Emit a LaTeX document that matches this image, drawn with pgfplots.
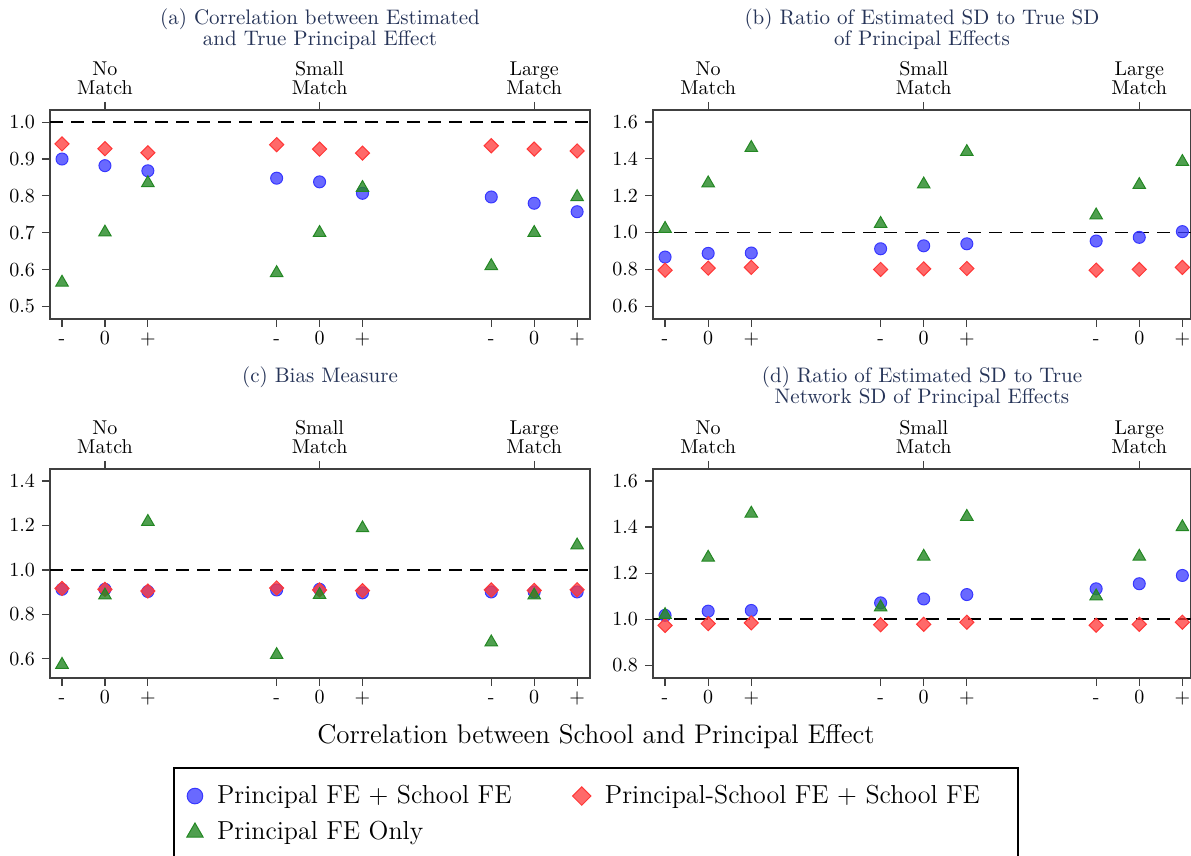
\documentclass[border=0pt]{standalone}
\usepackage{pgfplots}
\usepackage{pgfplotstable}
\pgfplotsset{compat=1.18}
\definecolor{mblue}{RGB}{55,55,255}
\definecolor{mred}{RGB}{255,55,55}
\definecolor{mgreen}{RGB}{35,135,35}
\definecolor{titlecol}{RGB}{38,52,88}

\pgfplotstableread{
x b r g
1 0.900 0.941 0.565
2 0.882 0.928 0.701
3 0.868 0.917 0.835
6 0.848 0.939 0.591
7 0.838 0.927 0.700
8 0.807 0.916 0.822
11 0.797 0.936 0.610
12 0.780 0.927 0.700
13 0.757 0.922 0.797
}\tabA
\pgfplotstableread{
x b r g
1 0.867 0.796 1.021
2 0.887 0.807 1.268
3 0.889 0.811 1.460
6 0.912 0.800 1.048
7 0.928 0.803 1.262
8 0.939 0.805 1.438
11 0.954 0.796 1.094
12 0.974 0.800 1.259
13 1.005 0.811 1.384
}\tabB
\pgfplotstableread{
x b r g
1 0.913 0.917 0.574
2 0.913 0.913 0.886
3 0.903 0.905 1.217
6 0.910 0.919 0.618
7 0.913 0.910 0.888
8 0.897 0.907 1.188
11 0.901 0.910 0.675
12 0.901 0.908 0.886
13 0.901 0.911 1.111
}\tabC
\pgfplotstableread{
x b r g
1 1.017 0.973 1.019
2 1.035 0.981 1.268
3 1.038 0.984 1.459
6 1.071 0.976 1.052
7 1.088 0.978 1.272
8 1.107 0.987 1.445
11 1.132 0.974 1.100
12 1.154 0.978 1.272
13 1.190 0.987 1.400
}\tabD

\pgfplotsset{
  every axis title shift=0pt,
  base/.style={scale only axis, anchor=south west, height=104.5pt,
    xtick={1,2,3,6,7,8,11,12,13}, xticklabels={-,0,+,-,0,+,-,0,+},
    xtick pos=left, ytick pos=left, tick align=outside, major tick length=4pt,
    axis line style={black!75, line width=0.6pt},
    tick style={black!75, line width=0.6pt},
    ticklabel style={font=\fontsize{10}{12}\selectfont},
    xticklabel style={text height=1.55ex, text depth=0.25ex, yshift=1.5pt},
    yticklabel style={/pgf/number format/.cd, fixed, fixed zerofill, precision=1},
    title style={font=\fontsize{10.5}{10.5}\selectfont, text=titlecol, align=center, anchor=center},
  },
  left/.style={width=270pt, xmin=0.72, xmax=13.3},
  right/.style={width=269pt, xmin=0.72, xmax=13.2},
  toplab/.style={scale only axis, anchor=south west, height=104.5pt, ymin=0, ymax=1,
    axis x line*=top, hide y axis, axis line style={draw=none},
    xtick={2,7,12}, xticklabels={{No\\Match},{Small\\Match},{Large\\Match}},
    xticklabel style={align=center, font=\fontsize{10}{9.6}\selectfont},
    tick align=outside, major tick length=4pt, tick style={black!75, line width=0.6pt}},
  refline/.style={black, line width=0.9pt, dash pattern=on 6.5pt off 4pt, forget plot},
  pb/.style={only marks, mark=*, mark size=3pt, color=mblue, mark options={fill=mblue, fill opacity=0.75, line width=0.5pt}},
  pr/.style={only marks, mark=square*, mark size=2.5pt, color=mred, mark options={rotate=45, fill=mred, fill opacity=0.75, line width=0.5pt}},
  pg/.style={only marks, mark=triangle*, mark size=3.6pt, color=mgreen, mark options={fill=mgreen, fill opacity=0.8, line width=0.5pt}},
}

\begin{document}
\begin{tikzpicture}
\useasboundingbox (0,0) rectangle (595.5pt,428pt);
% (a)
\begin{axis}[base, left, at={(25pt,268.5pt)}, ymin=0.466, ymax=1.033,
  ytick={0.5,0.6,0.7,0.8,0.9,1.0},
  title={(a) Correlation between Estimated\\and True Principal Effect},
  title style={at={(axis description cs:0.5,1.3876)}}]
\addplot[refline] coordinates {(0.72,1) (13.3,1)};
\addplot[pb] table[x=x,y=b]{\tabA};
\addplot[pr] table[x=x,y=r]{\tabA};
\addplot[pg] table[x=x,y=g]{\tabA};
\end{axis}
\begin{axis}[toplab, left, at={(25pt,268.5pt)}]
\end{axis}
% (b)
\begin{axis}[base, right, at={(326.5pt,268.5pt)}, ymin=0.531, ymax=1.665,
  ytick={0.6,0.8,1.0,1.2,1.4,1.6},
  title={(b) Ratio of Estimated SD to True SD\\of Principal Effects},
  title style={at={(axis description cs:0.5,1.3876)}}]
\addplot[refline] coordinates {(0.72,1) (13.2,1)};
\addplot[pb] table[x=x,y=b]{\tabB};
\addplot[pr] table[x=x,y=r]{\tabB};
\addplot[pg] table[x=x,y=g]{\tabB};
\end{axis}
\begin{axis}[toplab, right, at={(326.5pt,268.5pt)}]
\end{axis}
% (c)
\begin{axis}[base, left, at={(25pt,89pt)}, ymin=0.514, ymax=1.454,
  ytick={0.6,0.8,1.0,1.2,1.4},
  title={(c) Bias Measure},
  title style={at={(axis description cs:0.5,1.44)}},
  xlabel={Correlation between School and Principal Effect},
  xlabel style={at={(axis description cs:1.0111,-0.2823)}, anchor=center, font=\fontsize{13.5}{15}\selectfont},
  legend columns=2,
  legend cell align=left,
  legend style={draw=none, fill=none, at={(axis description cs:0.2416,-0.4737)}, anchor=north west,
    font=\fontsize{13}{15}\selectfont, row sep=3.5pt,
    /tikz/every even column/.append style={column sep=28.5pt},
    /tikz/every odd column/.append style={column sep=5pt}},
  legend image post style={/tikz/every mark/.append style={scale=1.3}}]
\addplot[refline] coordinates {(0.72,1) (13.3,1)};
\addplot[pb] table[x=x,y=b]{\tabC};
\addlegendentry{Principal FE + School FE}
\addplot[pr] table[x=x,y=r]{\tabC};
\addlegendentry{Principal-School FE + School FE}
\addplot[pg] table[x=x,y=g]{\tabC};
\addlegendentry{Principal FE Only}
\end{axis}
\begin{axis}[toplab, left, at={(25pt,89pt)}]
\end{axis}
% (d)
\begin{axis}[base, right, at={(326.5pt,89pt)}, ymin=0.745, ymax=1.652,
  ytick={0.8,1.0,1.2,1.4,1.6},
  title={(d) Ratio of Estimated SD to True\\Network SD of Principal Effects},
  title style={at={(axis description cs:0.5,1.392)}}]
\addplot[refline] coordinates {(0.72,1) (13.2,1)};
\addplot[pb] table[x=x,y=b]{\tabD};
\addplot[pr] table[x=x,y=r]{\tabD};
\addplot[pg] table[x=x,y=g]{\tabD};
\end{axis}
\begin{axis}[toplab, right, at={(326.5pt,89pt)}]
\end{axis}
% legend frame
\draw[black, line width=0.8pt] (87pt,-5pt) rectangle (509pt,44pt);
\end{tikzpicture}
\end{document}
